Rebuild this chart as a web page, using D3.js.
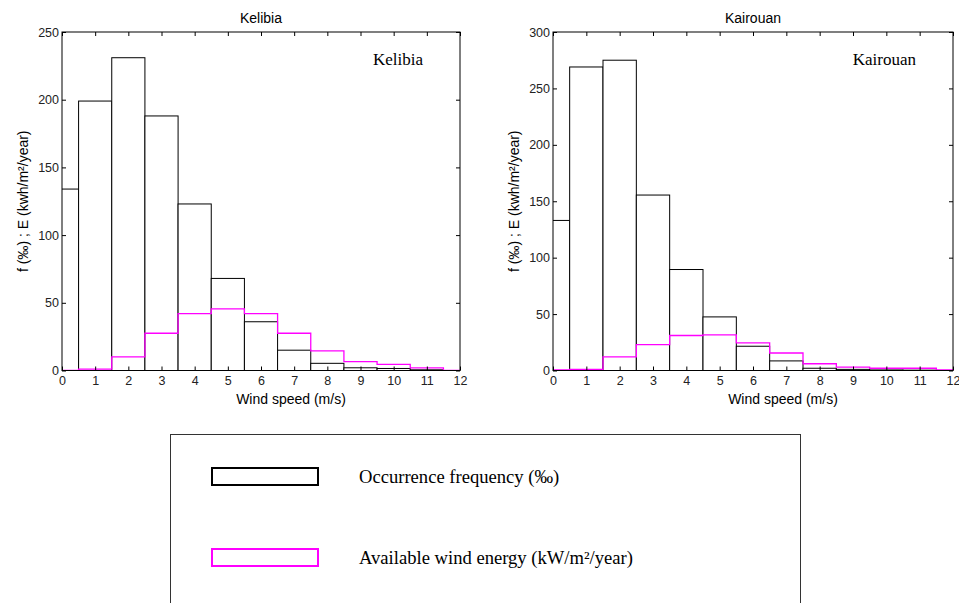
<!DOCTYPE html>
<html>
<head>
<meta charset="utf-8">
<script src="https://cdn.jsdelivr.net/npm/d3@7"></script>
<style>
  body { margin: 0; background: #fff; }
  svg { display: block; }
  .tick line { stroke: #000; }
  .tick text { fill: #222; }
</style>
</head>
<body>
<svg id="chart" width="959" height="603"></svg>
<script>
// wind speed bins (bar centres, m/s)
var windSpeeds = [0, 1, 2, 3, 4, 5, 6, 7, 8, 9, 10, 11, 12];

// Kelibia: occurrence frequency (per mille) and available energy
var kelibiaFreq   = [134, 199, 231, 188, 123, 68, 36, 15, 5.3, 2, 1.5, 0.5, 0];
var kelibiaEnergy = [0, 1, 10, 27.5, 42, 45.5, 42, 27.5, 14.5, 6.5, 4.5, 2, 0];

// Kairouan
var kairouanFreq   = [133, 269, 275, 155.5, 89.5, 47.5, 21.5, 8.5, 2, 1, 0.5, 0.3, 0];
var kairouanEnergy = [0.5, 1, 12, 23, 31, 31.5, 24.5, 15.5, 6, 3, 2, 2, 0.6];

var kelibiaTicks = [0, 50, 100, 150, 200, 250];
var kairouanTicks = [0, 50, 100, 150, 200, 250, 300];
var xTicks = [0, 1, 2, 3, 4, 5, 6, 7, 8, 9, 10, 11, 12];

var yLabel = "f (\u2030) ; E (kwh/m\u00b2/year)";
var xLabel = "Wind speed (m/s)";

var legendItems = [
	{label: "Occurrence frequency (\u2030)", color: "#000"},
	{label: "Available wind energy (kW/m\u00b2/year)", color: "#ff00ff"}
];

var svg = d3.select("#chart");
var sans = "'Liberation Sans', Arial, sans-serif",
	serif = "'Liberation Serif', 'Times New Roman', serif";

function drawPanel(opt) {
	var x = d3.scaleLinear().domain([0, 12]).range([opt.left, opt.right]);
	var y = d3.scaleLinear().domain([0, opt.yMax]).range([opt.bottom, opt.top]);

	var g = svg.append("g");
	var clipId = "clip-" + opt.id;
	g.append("clipPath").attr("id", clipId)
		.append("rect")
		.attr("x", opt.left).attr("y", opt.top)
		.attr("width", opt.right - opt.left).attr("height", opt.bottom - opt.top);

	var plot = g.append("g").attr("clip-path", "url(#" + clipId + ")");

	// frequency bars, one per bin centred on each speed
	plot.selectAll("rect.bar")
		.data(windSpeeds.map(function(s, i) { return {s: s, v: opt.freq[i]}; })
			.filter(function(d) { return d.v > 0; }))
		.enter().append("rect")
		.attr("class", "bar")
		.attr("x", function(d) { return x(d.s - 0.5); })
		.attr("width", function(d) { return x(d.s + 0.5) - x(d.s - 0.5); })
		.attr("y", function(d) { return y(d.v); })
		.attr("height", function(d) { return y(0) - y(d.v); })
		.attr("fill", "#fff")
		.attr("stroke", "#000")
		.attr("stroke-width", 1);

	// energy as a staircase outline
	var pts = [];
	windSpeeds.forEach(function(s, i) {
		pts.push([s - 0.5, opt.energy[i]]);
		pts.push([s + 0.5, opt.energy[i]]);
	});
	pts.push([12.5, 0]);
	plot.append("path")
		.datum(pts)
		.attr("fill", "none")
		.attr("stroke", "#ff00ff")
		.attr("stroke-width", 1.3)
		.attr("d", d3.line()
			.x(function(d) { return x(d[0]); })
			.y(function(d) { return y(d[1]); }));

	// axes with inward ticks on all four sides
	var tl = 4;
	g.append("g")
		.attr("transform", "translate(0," + opt.bottom + ")")
		.call(d3.axisBottom(x).tickValues(xTicks).tickSize(-tl).tickPadding(6).tickFormat(d3.format("d")))
		.call(function(a) { a.select(".domain").remove(); })
		.selectAll("text").style("font", "12.5px " + sans);
	g.append("g")
		.attr("transform", "translate(0," + opt.top + ")")
		.call(d3.axisTop(x).tickValues(xTicks).tickSize(-tl).tickFormat(""))
		.call(function(a) { a.select(".domain").remove(); });
	g.append("g")
		.attr("transform", "translate(" + opt.left + ",0)")
		.call(d3.axisLeft(y).tickValues(opt.yTicks).tickSize(-tl).tickPadding(3).tickFormat(d3.format("d")))
		.call(function(a) { a.select(".domain").remove(); })
		.selectAll("text").style("font", "12.5px " + sans);
	g.append("g")
		.attr("transform", "translate(" + opt.right + ",0)")
		.call(d3.axisRight(y).tickValues(opt.yTicks).tickSize(-tl).tickFormat(""))
		.call(function(a) { a.select(".domain").remove(); });

	g.append("rect")
		.attr("x", opt.left).attr("y", opt.top)
		.attr("width", opt.right - opt.left).attr("height", opt.bottom - opt.top)
		.attr("fill", "none").attr("stroke", "#000").attr("stroke-width", 1);

	var cx = (opt.left + opt.right) / 2;
	g.append("text")
		.attr("x", cx).attr("y", 23)
		.attr("text-anchor", "middle")
		.style("font", "14px " + sans)
		.text(opt.name);
	g.append("text")
		.attr("x", opt.right - 37).attr("y", 65)
		.attr("text-anchor", "end")
		.style("font", "17px " + serif)
		.text(opt.name);
	// the original's x label sits a little right of the axis centre
	g.append("text")
		.attr("x", cx + 30).attr("y", 404)
		.attr("text-anchor", "middle")
		.style("font", "14px " + sans)
		.text(xLabel);
	g.append("text")
		.attr("transform", "translate(" + (opt.left - 34) + "," + ((opt.top + opt.bottom) / 2) + ") rotate(-90)")
		.attr("text-anchor", "middle")
		.style("font", "14px " + sans)
		.text(yLabel);
}

drawPanel({id: "kelibia", name: "Kelibia", left: 62, right: 460, top: 32, bottom: 370.5,
	yMax: 250, yTicks: kelibiaTicks, freq: kelibiaFreq, energy: kelibiaEnergy});
drawPanel({id: "kairouan", name: "Kairouan", left: 553, right: 953, top: 32, bottom: 370.5,
	yMax: 300, yTicks: kairouanTicks, freq: kairouanFreq, energy: kairouanEnergy});

// legend box, runs past the bottom edge like the original
var legend = svg.append("g");
legend.append("rect")
	.attr("x", 170.5).attr("y", 434.5)
	.attr("width", 630).attr("height", 200)
	.attr("fill", "none").attr("stroke", "#333").attr("stroke-width", 1);

var rowY = d3.scalePoint().domain(legendItems.map(function(d) { return d.label; }))
	.range([476, 557]);

var row = legend.selectAll("g.item")
	.data(legendItems)
	.enter().append("g")
	.attr("class", "item")
	.attr("transform", function(d) { return "translate(0," + rowY(d.label) + ")"; });
row.append("rect")
	.attr("x", 212).attr("y", -8)
	.attr("width", 106).attr("height", 17)
	.attr("fill", "#fff")
	.attr("stroke", function(d) { return d.color; })
	.attr("stroke-width", 2);
row.append("text")
	.attr("x", 359).attr("y", 7)
	.style("font", "18.6px " + serif)
	.text(function(d) { return d.label; });
</script>
</body>
</html>
